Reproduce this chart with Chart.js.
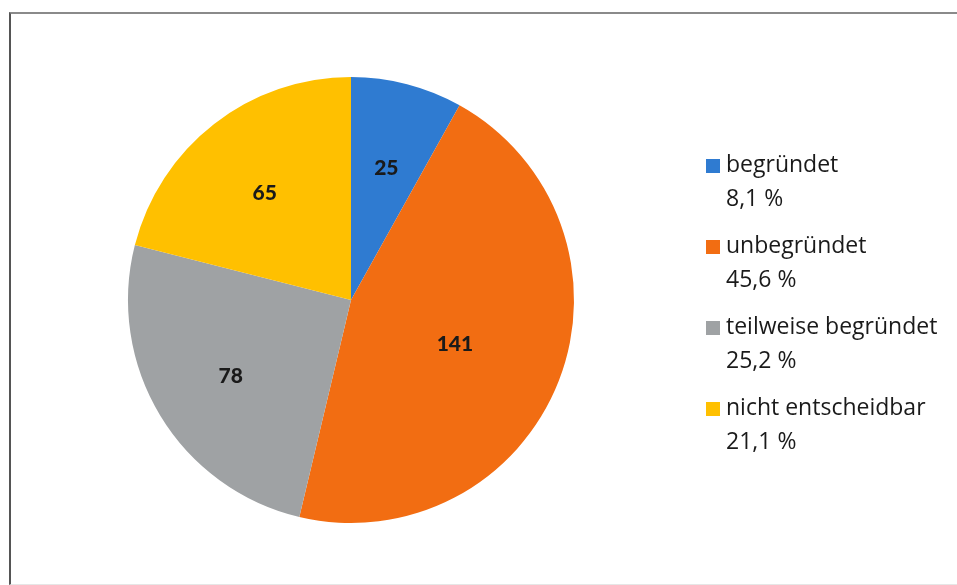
<!DOCTYPE html>
<html>
<head>
<meta charset="utf-8">
<script src="https://cdn.jsdelivr.net/npm/chart.js@4/dist/chart.umd.min.js"></script>
<style>
  html, body { margin: 0; padding: 0; background: #ffffff; }
  #wrap { position: relative; width: 957px; height: 585px; overflow: hidden; background: #fff; }
  #frame { position: absolute; left: 9px; top: 12px; width: 1000px; height: 570px;
           border-left: 2px solid #555; border-top: 2px solid #8a8a8a; border-bottom: 1px solid #e6e6e6; }
  canvas { position: absolute; left: 0; top: 0; }
</style>
</head>
<body>
<div id="wrap">
  <div id="frame"></div>
  <canvas id="c" width="957" height="585"></canvas>
</div>
<script>
const categories = ["begründet", "unbegründet", "teilweise begründet", "nicht entscheidbar"];
const counts = [25, 141, 78, 65];
const percentLabels = ["8,1 %", "45,6 %", "25,2 %", "21,1 %"];
const colors = ["#2f7bd1", "#f26d12", "#9fa2a4", "#ffc000"];

const LABEL_FONT = "Lato, 'Open Sans', 'DejaVu Sans', sans-serif";
const LEGEND_FONT = "'Open Sans', Lato, 'DejaVu Sans', sans-serif";

const valueLabels = {
  id: 'valueLabels',
  afterDatasetsDraw(chart) {
    const ctx = chart.ctx;
    const meta = chart.getDatasetMeta(0);
    ctx.save();
    ctx.font = "900 21px " + LABEL_FONT;
    ctx.fillStyle = "#1a1a1a";
    ctx.textAlign = "center";
    ctx.textBaseline = "middle";
    meta.data.forEach((arc, i) => {
      const p = arc.getProps(['x', 'y', 'startAngle', 'endAngle', 'outerRadius'], true);
      const mid = (p.startAngle + p.endAngle) / 2;
      const f = counts[i] > 100 ? 0.5 : 0.63;
      const x = p.x + Math.cos(mid) * p.outerRadius * f;
      const y = p.y + Math.sin(mid) * p.outerRadius * f + 4;
      ctx.fillText(String(chart.data.datasets[0].data[i]), x, y);
    });
    ctx.restore();
  }
};

const sideLegend = {
  id: 'sideLegend',
  afterDraw(chart) {
    const ctx = chart.ctx;
    const x0 = 706, textX = 726, yFirst = 165, step = 81, lineGap = 34, box = 14;
    ctx.save();
    ctx.font = "23px " + LEGEND_FONT;
    ctx.textAlign = "left";
    ctx.textBaseline = "middle";
    chart.data.labels.forEach((lab, i) => {
      const y = yFirst + i * step;
      ctx.fillStyle = chart.data.datasets[0].backgroundColor[i];
      ctx.fillRect(x0, y - box / 2 + 1, box, box);
      ctx.fillStyle = "#1a1a1a";
      ctx.fillText(lab, textX, y);
      ctx.fillText(percentLabels[i], textX, y + lineGap);
    });
    ctx.restore();
  }
};

new Chart(document.getElementById('c'), {
  type: 'pie',
  data: {
    labels: categories,
    datasets: [{
      data: counts,
      backgroundColor: colors,
      borderWidth: 0
    }]
  },
  options: {
    responsive: false,
    animation: false,
    layout: { padding: { left: 128, top: 77, right: 383, bottom: 62 } },
    plugins: {
      legend: { display: false },
      tooltip: { enabled: false }
    }
  },
  plugins: [valueLabels, sideLegend]
});
</script>
</body>
</html>
